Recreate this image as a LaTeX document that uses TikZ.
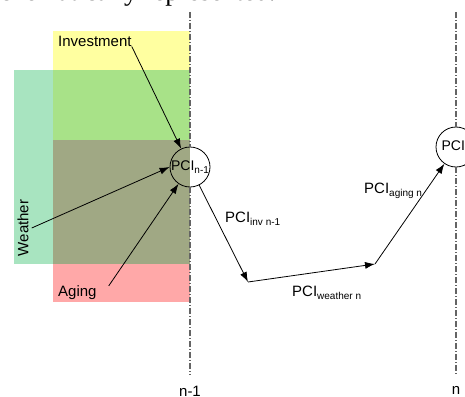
\documentclass[tikz,border=0pt]{standalone}
\usepackage{fontspec}
\setmainfont{Liberation Sans}
\newfontfamily\pciserif{Liberation Serif}
\usetikzlibrary{arrows.meta,positioning}
\definecolor{PciYellow}{RGB}{255,255,160}
\definecolor{PciGreen}{RGB}{168,226,136}
\definecolor{PciTeal}{RGB}{168,228,192}
\definecolor{PciOlive}{RGB}{160,168,132}
\definecolor{PciRed}{RGB}{255,168,168}
\definecolor{PciGray}{RGB}{100,100,100}
\newcommand{\pcisub}[1]{\raisebox{-0.35ex}{\fontsize{10}{12}\selectfont #1}}
\tikzset{
  pci/state/.style={
    circle,
    draw=black,
    line width=0.8pt,
    minimum size=40pt,
    inner sep=0pt,
    font=\fontsize{14}{16}\selectfont
  },
  pci/label/.style={font=\fontsize{15}{18}\selectfont, inner sep=0pt},
  pci/arrow/.style={-{Latex[length=10pt,width=7pt]}, line width=0.8pt, draw=black},
  pci/timeline/.style={draw=PciGray, line width=1.1pt, dash pattern=on 6pt off 2pt on 1pt off 2pt}
}

\begin{document}
\begin{tikzpicture}[x=1pt,y=-1pt]
  \useasboundingbox (0,0) rectangle (465,396);
  \clip (0,0) rectangle (465,396);
  % caption line cut off above
  \node[anchor=base west, inner sep=0pt, font=\pciserif\fontsize{27}{30}\selectfont] (caption) at (-11,1) {schematically represented.};
  % influence bands
  \fill[PciYellow] (53,31) rectangle (190,70);
  \fill[PciTeal] (14,70) rectangle (53,264);
  \fill[PciGreen] (53,70) rectangle (190,140);
  \fill[PciOlive] (53,140) rectangle (190,264);
  \fill[PciRed] (53,264) rectangle (190,302);
  \node[pci/label, anchor=west] (invest) at (58,41) {Investment};
  \node[pci/label, rotate=90] (weather) at (23,228) {Weather};
  \node[pci/label, anchor=west] (aging) at (58,293) {Aging};
  % states
  \node[pci/state] (pciprev) at (190,167) {PCI\pcisub{n-1}};
  \node[pci/state] (pcinext) at (456,147) {PCI\pcisub{n}};
  \coordinate (ptA) at (248,282);
  \coordinate (ptB) at (375,264);
  % time axes
  \coordinate (prevtop) at (190,12);
  \coordinate (prevbot) at (190,375);
  \coordinate (nexttop) at (456,12);
  \coordinate (nextbot) at (456,375);
  \draw[pci/timeline] (prevtop) -- (pciprev.north);
  \draw[pci/timeline] (pciprev.south) -- (prevbot);
  \draw[pci/timeline] (nexttop) -- (pcinext.north);
  \draw[pci/timeline] (pcinext.south) -- (nextbot);
  \node[pci/label, anchor=north] (tprev) at (190,386) {n-1};
  \node[pci/label, anchor=north] (tnext) at (456,386) {n};
  % influences
  \draw[pci/arrow] (invest.south east) -- (pciprev);
  \draw[pci/arrow] ([xshift=3pt]weather.south) -- (pciprev.west);
  \draw[pci/arrow] ([xshift=12pt]aging.north east) -- (pciprev);
  % path to next state
  \draw[pci/arrow] (pciprev) -- (ptA);
  \draw[pci/arrow] (ptA) -- (ptB);
  \draw[pci/arrow] (ptB) -- (pcinext);
  \node[pci/label, anchor=west] (lblinv) at (225,219) {PCI\pcisub{inv n-1}};
  \node[pci/label, anchor=west] (lblweather) at (292,293) {PCI\pcisub{weather n}};
  \node[pci/label, anchor=west] (lblaging) at (364,191) {PCI\pcisub{aging n}};
\end{tikzpicture}
\end{document}
